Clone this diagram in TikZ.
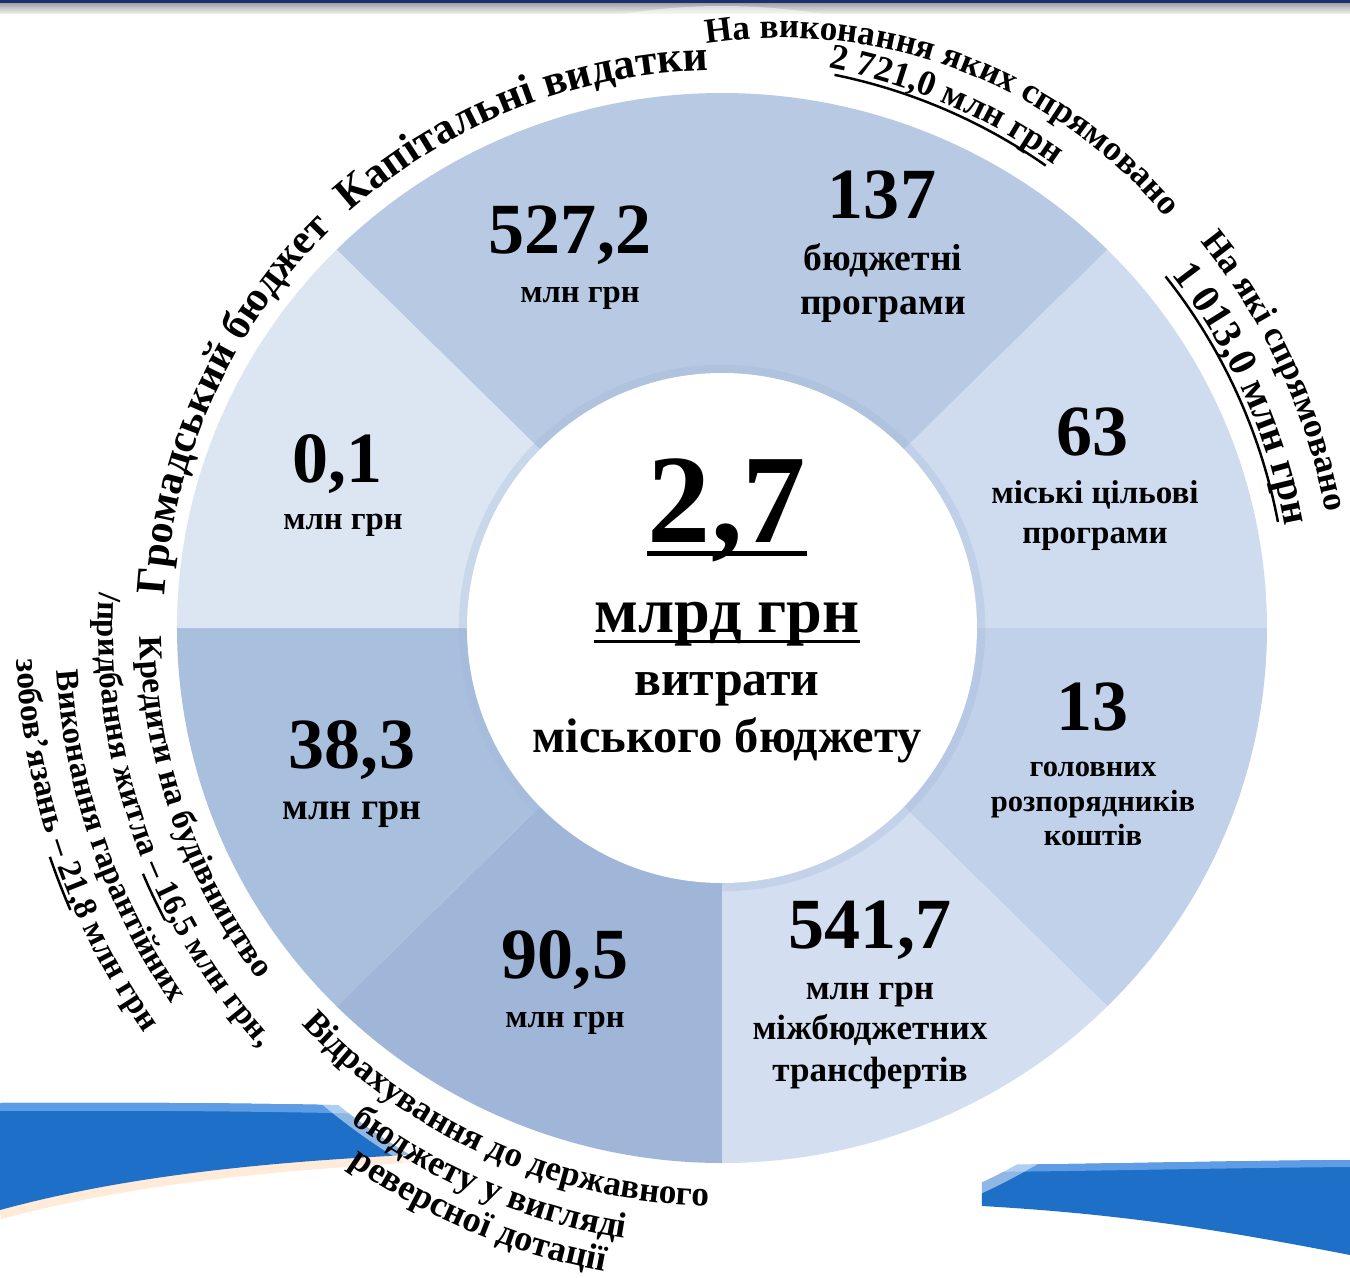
\documentclass[tikz,border=0pt]{standalone}
\usepackage{fontspec}
\setmainfont{Liberation Serif}
\usetikzlibrary{decorations.text}

\definecolor{secA}{HTML}{B7C9E3}
\definecolor{secB}{HTML}{CFDCEF}
\definecolor{secC}{HTML}{C0D1E9}
\definecolor{secD}{HTML}{D3DEF0}
\definecolor{secE}{HTML}{9FB6D9}
\definecolor{secF}{HTML}{A9BFDE}
\definecolor{secG}{HTML}{DCE6F3}
\definecolor{bandblue}{HTML}{1E6FC7}
\definecolor{bandlight}{HTML}{5E9DE6}
\definecolor{topnavy}{HTML}{1B2F73}

\newcommand{\fsz}[1]{\bfseries\fontsize{#1}{#1}\selectfont}

\tikzset{
  num/.style={font=\fsz{20.5}, anchor=base, inner sep=0pt},
  lbl/.style={font=\fsz{10}, anchor=base, inner sep=0pt},
  arctext/.style={decorate, decoration={text along path, text align=center, text={#1}}},
  uline/.style={line width=0.7pt}
}

\begin{document}
\begin{tikzpicture}
	\useasboundingbox (-7.22,-6.50) rectangle (6.28,6.28);
	\fill[white] (-7.22,-6.50) rectangle (6.28,6.28);
	% top bar
	\fill[topnavy] (-7.22,6.245) rectangle (6.28,6.28);
	\shade[top color=gray!70, bottom color=gray!15] (-7.22,6.15) rectangle (6.28,6.245);
	% blue bands
	\draw[orange!25, line width=3pt, opacity=0.6] (-7.22,-5.86) .. controls (-5.9,-5.5) and (-4.4,-5.36) .. (-2.7,-5.27);
	\fill[bandblue] (-7.22,-4.75) .. controls (-5.5,-4.74) and (-4,-4.76) .. (-2.7,-4.80) -- (-2.7,-5.25) .. controls (-4.4,-5.32) and (-5.9,-5.46) .. (-7.22,-5.82) -- cycle;
	\fill[bandlight] (-7.22,-4.75) .. controls (-5.5,-4.74) and (-4,-4.76) .. (-2.7,-4.80) -- (-2.7,-4.88) .. controls (-4,-4.84) and (-5.5,-4.82) .. (-7.22,-4.83) -- cycle;
	\fill[bandblue] (2.6,-5.37) .. controls (3.8,-5.36) and (5,-5.33) .. (6.28,-5.32) -- (6.28,-6.27) .. controls (5.0,-6.02) and (4.0,-5.86) .. (2.6,-5.78) -- cycle;
	\fill[bandlight] (2.6,-5.37) .. controls (3.8,-5.36) and (5,-5.33) .. (6.28,-5.32) -- (6.28,-5.39) .. controls (5,-5.40) and (3.8,-5.43) .. (2.6,-5.44) -- cycle;
	\fill[white,opacity=0.5] (0,0) circle (6.22);
	\fill[white] (0,0) circle (6.12);
	% ring
	\fill[secA] (0,0) -- (90:5.45 and 5.35) arc[start angle=90, end angle=135, x radius=5.45, y radius=5.35] -- cycle;
	\fill[secA] (0,0) -- (45:5.45 and 5.35) arc[start angle=45, end angle=90, x radius=5.45, y radius=5.35] -- cycle;
	\fill[secB] (0,0) -- (0:5.45 and 5.35) arc[start angle=0, end angle=45, x radius=5.45, y radius=5.35] -- cycle;
	\fill[secC] (0,0) -- (-45:5.45 and 5.35) arc[start angle=-45, end angle=0, x radius=5.45, y radius=5.35] -- cycle;
	\fill[secD] (0,0) -- (-90:5.45 and 5.35) arc[start angle=-90, end angle=-45, x radius=5.45, y radius=5.35] -- cycle;
	\fill[secE] (0,0) -- (-135:5.45 and 5.35) arc[start angle=-135, end angle=-90, x radius=5.45, y radius=5.35] -- cycle;
	\fill[secF] (0,0) -- (180:5.45 and 5.35) arc[start angle=180, end angle=225, x radius=5.45, y radius=5.35] -- cycle;
	\fill[secG] (0,0) -- (135:5.45 and 5.35) arc[start angle=135, end angle=180, x radius=5.45, y radius=5.35] -- cycle;
	\draw[secE, line width=3pt, opacity=0.3] (0,0) circle (2.58);
	\fill[white] (0,0) circle (2.55);

	% sector values
	\node[num] (v527) at (-1.52,3.75) {527,2};
	\node[lbl, font=\fsz{9.3}] (u527) at (-1.42,3.26) {млн грн};
	\node[num] (v137) at (1.60,4.10) {137};
	\node[lbl, font=\fsz{10.7}] (a137) at (1.61,3.58) {бюджетні};
	\node[lbl, font=\fsz{10.7}] (b137) at (1.61,3.14) {програми};
	\node[num] (v63) at (3.71,1.73) {63};
	\node[lbl, font=\fsz{9.4}] (a63) at (3.73,1.25) {міські цільові};
	\node[lbl, font=\fsz{9.4}] (b63) at (3.73,0.85) {програми};
	\node[num] (v13) at (3.71,-1.02) {13};
	\node[lbl, font=\fsz{8.7}] (a13) at (3.71,-1.48) {головних};
	\node[lbl, font=\fsz{8.7}] (b13) at (3.71,-1.83) {розпорядників};
	\node[lbl, font=\fsz{8.7}] (c13) at (3.71,-2.17) {коштів};
	\node[num] (v541) at (1.48,-3.20) {541,7};
	\node[lbl] (a541) at (1.48,-3.71) {млн грн};
	\node[lbl] (b541) at (1.48,-4.11) {міжбюджетних};
	\node[lbl] (c541) at (1.48,-4.53) {трансфертів};
	\node[num] (v90) at (-1.57,-3.50) {90,5};
	\node[lbl, font=\fsz{9.3}] (u90) at (-1.57,-3.99) {млн грн};
	\node[num] (v38) at (-3.70,-1.40) {38,3};
	\node[lbl, font=\fsz{10.8}] (u38) at (-3.70,-1.91) {млн грн};
	\node[num] (v01) at (-3.84,1.46) {0,1};
	\node[lbl, font=\fsz{9.3}] (u01) at (-3.79,0.99) {млн грн};

	% centre
	\node[num, font=\fsz{36}] (total) at (0.05,0.86) {2,7};
	\draw[line width=0.05cm] ([yshift=-0.11cm]total.base west) -- ([yshift=-0.11cm]total.base east);
	\node[lbl, font=\fsz{18.3}] (unit) at (0.05,-0.04) {млрд грн};
	\draw[line width=0.03cm] ([yshift=-0.09cm]unit.base west) -- ([yshift=-0.09cm]unit.base east);
	\node[lbl, font=\fsz{14.2}] (what) at (0.05,-0.67) {витрати};
	\node[lbl, font=\fsz{13.8}] (whose) at (0.05,-1.24) {міського бюджету};

	% texts round the ring
	\path[arctext={|\fsz{12}|Громадський бюджет}] (190.5:5.58) arc[start angle=190.5, end angle=120.5, radius=5.58];
	\path[arctext={|\fsz{12.4}|Капітальні видатки}] (146.6:5.58) arc[start angle=146.6, end angle=76.6, radius=5.58];
	\path[arctext={|\fsz{10}|На виконання яких спрямовано}] ([shift={(0.6,0.9)}]109.3:5.0) arc[start angle=109.3, end angle=29.3, radius=5.0];
	\path[arctext={|\fsz{10.2}|2 721,0 млн грн}] (96.8:5.70) arc[start angle=96.8, end angle=36.8, radius=5.70];
	\draw[uline] (78.5:5.645) arc[start angle=78.5, end angle=55, radius=5.645];
	\path[arctext={|\fsz{10}|На які спрямовано}] (54.9:6.15) arc[start angle=54.9, end angle=-5.1, radius=6.15];
	\path[arctext={|\fsz{11.5}|1 013,0 млн грн}] (54.2:5.72) arc[start angle=54.2, end angle=-5.8, radius=5.72];
	\draw[uline] (38.4:5.66) arc[start angle=38.4, end angle=10.8, radius=5.66];
	\path[arctext={|\fsz{9.5}|Кредити на будівництво}] (169:5.82) arc[start angle=169, end angle=229, radius=5.82];
	\path[arctext={|\fsz{9.3}|/придбання житла – 16,5 млн грн,}] (169.5:6.24) arc[start angle=169.5, end angle=229.5, radius=6.24];
	\draw[uline] (203.0:6.29) arc[start angle=203.0, end angle=207.7, radius=6.29];
	\path[arctext={|\fsz{9.3}|Виконання гарантійних}] (169:6.67) arc[start angle=169, end angle=229, radius=6.67];
	\path[arctext={|\fsz{9.5}|зобов’язань – 21,8 млн грн}] (168.8:7.06) arc[start angle=168.8, end angle=228.8, radius=7.06];
	\draw[uline] (198.8:7.10) arc[start angle=198.8, end angle=203.4, radius=7.10];
	\path[arctext={|\fsz{10}|Відрахування до державного}] (216:5.78) arc[start angle=216, end angle=276, radius=5.78];
	\path[arctext={|\fsz{10.2}|бюджету у вигляді}] (217:6.18) arc[start angle=217, end angle=277, radius=6.18];
	\path[arctext={|\fsz{10.3}|реверсної дотації}] (217.4:6.54) arc[start angle=217.4, end angle=277.4, radius=6.54];
\end{tikzpicture}
\end{document}
